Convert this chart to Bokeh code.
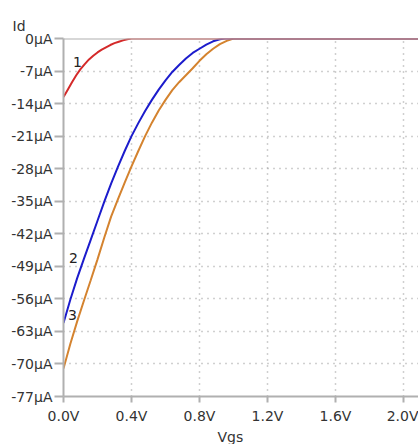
from bokeh.plotting import figure
from bokeh.models import Range1d, FixedTicker, Label, Span, Title
from bokeh.embed import file_html
from bokeh.resources import INLINE

# Drain current Id (µA) against gate-source voltage Vgs (V) for three traces
vgs_1 = [0.0, 0.025, 0.05, 0.075, 0.10, 0.125, 0.15, 0.175, 0.20, 0.225, 0.25,
         0.275, 0.30, 0.325, 0.35, 0.375, 0.40, 2.10]
id_1 = [-12.6, -11.0, -9.4, -7.9, -6.6, -5.5, -4.5, -3.7, -3.0, -2.4, -1.9,
        -1.4, -1.0, -0.7, -0.4, -0.18, 0.0, 0.0]

vgs_2 = [0.0, 0.04, 0.08, 0.12, 0.16, 0.20, 0.24, 0.28, 0.32, 0.36, 0.40, 0.44,
         0.48, 0.52, 0.56, 0.60, 0.64, 0.68, 0.72, 0.76, 0.80, 0.84, 0.88, 0.92,
         0.95, 2.10]
id_2 = [-61.2, -56.2, -51.6, -47.4, -43.3, -39.2, -35.1, -31.2, -27.6, -24.2,
        -21.0, -18.2, -15.6, -13.2, -11.0, -9.0, -7.2, -5.7, -4.3, -3.1, -2.2,
        -1.3, -0.6, -0.15, 0.0, 0.0]

vgs_3 = [0.0, 0.04, 0.08, 0.12, 0.16, 0.20, 0.24, 0.28, 0.32, 0.36, 0.40, 0.44,
         0.48, 0.52, 0.56, 0.60, 0.64, 0.68, 0.72, 0.76, 0.80, 0.84, 0.88, 0.92,
         0.96, 1.00, 2.10]
id_3 = [-71.0, -65.7, -60.9, -56.4, -52.0, -47.5, -42.8, -38.3, -34.6, -31.0,
        -27.5, -24.2, -21.0, -18.1, -15.5, -13.2, -11.1, -9.4, -7.9, -6.4, -4.8,
        -3.4, -2.2, -1.2, -0.5, 0.0, 0.0]

y_ticks = [0, -7, -14, -21, -28, -35, -42, -49, -56, -63, -70, -77]
y_tick_labels = [f"{t}µA" for t in y_ticks]
x_ticks = [0.0, 0.4, 0.8, 1.2, 1.6, 2.0]
x_tick_labels = [f"{t:.1f}V" for t in x_ticks]

trace_names = ["1", "2", "3"]
trace_label_pos = [(0.082, -5.1), (0.059, -47.3), (0.053, -59.5)]

FONT = "DejaVu Sans"
AXIS_GREY = "#b0b0b0"
TEXT = "#333333"

p = figure(
    width=418, height=444,
    x_range=Range1d(0, 2.088), y_range=Range1d(-77, 0),
    output_backend="svg", toolbar_location=None,
    min_border_left=63, min_border_right=0, min_border_top=38, min_border_bottom=46,
)
p.outline_line_color = None
p.background_fill_color = "white"
p.border_fill_color = "white"

# y-axis name sits above the axis, unrotated
p.title.text = "Id"
p.title.align = "left"
p.title.vertical_align = "middle"
p.title.offset = -51
p.title.standoff = 8
p.title.text_font = FONT
p.title.text_font_size = "14px"
p.title.text_font_style = "normal"
p.title.text_color = TEXT

for ax in (p.xaxis[0], p.yaxis[0]):
    ax.axis_line_color = AXIS_GREY
    ax.axis_line_width = 2
    ax.major_tick_line_color = AXIS_GREY
    ax.major_tick_line_width = 2
    ax.major_tick_in = 0
    ax.minor_tick_line_color = None
    ax.major_label_text_font = FONT
    ax.major_label_text_font_size = "14px"
    ax.major_label_text_color = TEXT

p.yaxis.ticker = FixedTicker(ticks=y_ticks)
p.yaxis.major_label_overrides = dict(zip(y_ticks, y_tick_labels))
p.yaxis.major_tick_out = 9
p.yaxis.major_label_standoff = 2

p.xaxis.ticker = FixedTicker(ticks=x_ticks)
p.xaxis.major_label_overrides = dict(zip(x_ticks, x_tick_labels))
p.xaxis.major_tick_out = 6
p.xaxis.major_label_standoff = 5

# x-axis name below the tick labels
p.add_layout(Title(text="Vgs", align="left", offset=154, standoff=0,
                   text_font=FONT, text_font_size="14px", text_font_style="normal",
                   text_color=TEXT), "below")

for g in (p.xgrid[0], p.ygrid[0]):
    g.grid_line_color = "#a0a0a0"
    g.grid_line_dash = "1 5"
    g.grid_line_width = 1.5

# top frame edge
p.add_layout(Span(location=0, dimension="width", line_color=AXIS_GREY, line_width=2))

p.line(vgs_3, id_3, line_color="#d4832f", line_width=2)
p.line(vgs_2, id_2, line_color="#1c1ccc", line_width=2)
p.line(vgs_1, id_1, line_color="#d42a2a", line_width=2)

for name, (lx, ly) in zip(trace_names, trace_label_pos):
    p.add_layout(Label(x=lx, y=ly, text=name, text_align="center", text_baseline="middle",
                       text_font=FONT, text_font_size="14px", text_color="#222222"))

open("out.html", "w").write(file_html(p, INLINE))
